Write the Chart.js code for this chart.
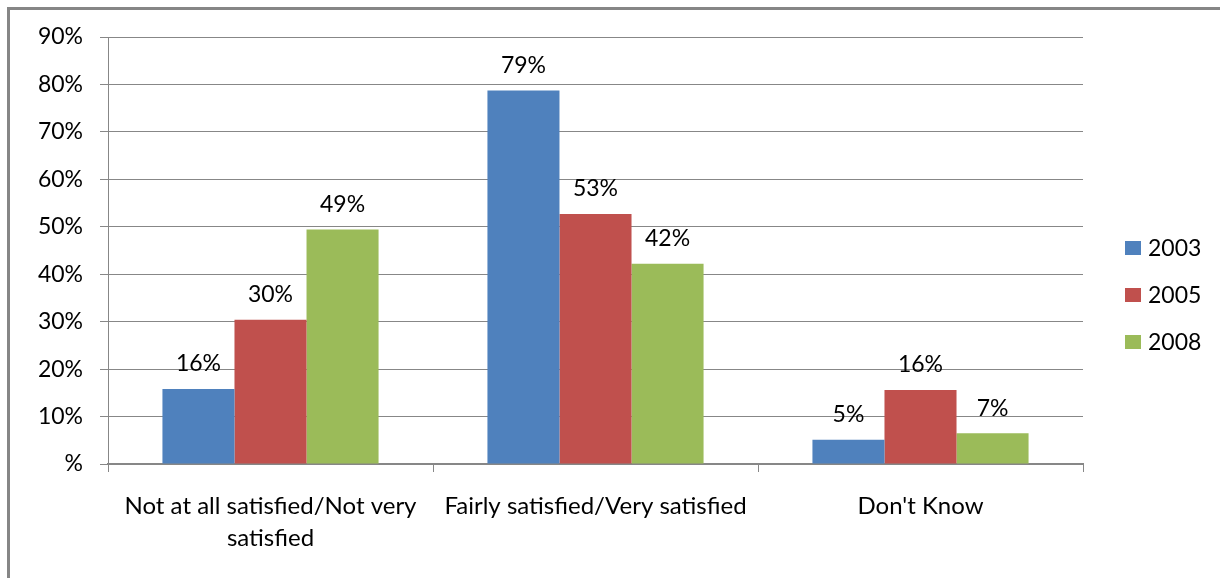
<!DOCTYPE html>
<html>
<head>
<meta charset="utf-8">
<script src="https://cdn.jsdelivr.net/npm/chart.js@4.4.1/dist/chart.umd.min.js"></script>
<style>
  html, body { margin: 0; padding: 0; background: #fff; overflow: hidden; }
  #wrap { position: relative; width: 1220px; height: 578px; }
  #frame { position: absolute; left: 7px; top: 7px; width: 1300px; height: 700px;
           border-top: 3px solid #868686; border-left: 3px solid #868686; }
  #myChart { position: absolute; left: 0; top: 0; }
</style>
</head>
<body>
<div id="wrap">
  <div id="frame"></div>
  <canvas id="myChart" width="1220" height="578"></canvas>
</div>
<script>
const categories = ["Not at all satisfied/Not very satisfied", "Fairly satisfied/Very satisfied", "Don't Know"];
const years = ["2003", "2005", "2008"];
const values2003 = [15.8, 78.7, 5.1];
const values2005 = [30.4, 52.7, 15.6];
const values2008 = [49.4, 42.2, 6.5];
const yTicks = [0, 10, 20, 30, 40, 50, 60, 70, 80, 90];
const colors = ["#4f81bd", "#c0504d", "#9bbb59"];

const FONT = "Lato";
const gridCol = "#878787";

// split long category names on spaces so they fit under their group
function wrapLabel(text, maxChars) {
    let words = text.split(" ");
    let lines = [];
    let cur = "";
    for (let w of words) {
        if (cur.length && (cur + " " + w).length > maxChars) {
            lines.push(cur);
            cur = w;
        } else {
            cur = cur.length ? cur + " " + w : w;
        }
    }
    if (cur.length) lines.push(cur);
    return lines;
}

// value labels above each bar
const barLabels = {
    id: "barLabels",
    afterDatasetsDraw(chart) {
        let ctx = chart.ctx;
        ctx.save();
        ctx.font = "23px " + FONT;
        ctx.fillStyle = "#000";
        ctx.textAlign = "center";
        ctx.textBaseline = "middle";
        chart.data.datasets.forEach(function (ds, i) {
            chart.getDatasetMeta(i).data.forEach(function (bar, j) {
                ctx.fillText(Math.round(ds.data[j]) + "%", bar.x, bar.y - 25);
            });
        });
        ctx.restore();
    }
};

// legend on the right, one row per year
const sideLegend = {
    id: "sideLegend",
    afterDraw(chart) {
        let ctx = chart.ctx;
        let x = chart.chartArea.right + 42;
        let y = 248;
        ctx.save();
        ctx.font = "23px " + FONT;
        ctx.textBaseline = "middle";
        chart.data.datasets.forEach(function (ds) {
            ctx.fillStyle = ds.backgroundColor;
            ctx.fillRect(x, y - 7, 16, 14);
            ctx.fillStyle = "#000";
            ctx.fillText(ds.label, x + 23, y + 1);
            y += 47;
        });
        ctx.restore();
    }
};

const seriesValues = [values2003, values2005, values2008];
let datasets = [];
for (let i = 0; i < years.length; i++) {
    datasets.push({
        label: years[i],
        data: seriesValues[i],
        backgroundColor: colors[i],
        borderWidth: 0,
        categoryPercentage: 0.665,
        barPercentage: 1.0
    });
}

let ctx = document.getElementById("myChart").getContext("2d");
let myChart = new Chart(ctx, {
    type: "bar",
    data: { labels: categories, datasets: datasets },
    plugins: [barLabels, sideLegend],
    options: {
        responsive: false,
        animation: false,
        layout: { padding: { left: 0, top: 37, right: 137, bottom: 0 } },
        plugins: { legend: { display: false }, tooltip: { enabled: false } },
        scales: {
            x: {
                grid: { offset: true, drawOnChartArea: false, color: gridCol, tickLength: 8, lineWidth: 1 },
                border: { color: gridCol, width: 2 },
                ticks: {
                    color: "#000",
                    font: { family: FONT, size: 24, lineHeight: 1.33 },
                    padding: 18,
                    maxRotation: 0,
                    callback: function (v) { return wrapLabel(categories[v], 31); }
                },
                afterFit: function (scale) { scale.height = 114; }
            },
            y: {
                min: 0,
                max: 90,
                afterBuildTicks: function (scale) {
                    scale.ticks = yTicks.map(function (v) { return { value: v }; });
                },
                grid: { color: gridCol, tickLength: 8, lineWidth: 1 },
                border: { color: gridCol, width: 1 },
                ticks: {
                    color: "#000",
                    font: { family: FONT, size: 23 },
                    padding: 17,
                    callback: function (v) { return v === 0 ? "%" : v + "%"; }
                },
                afterFit: function (scale) { scale.width = 108; }
            }
        }
    }
});
</script>
</body>
</html>
